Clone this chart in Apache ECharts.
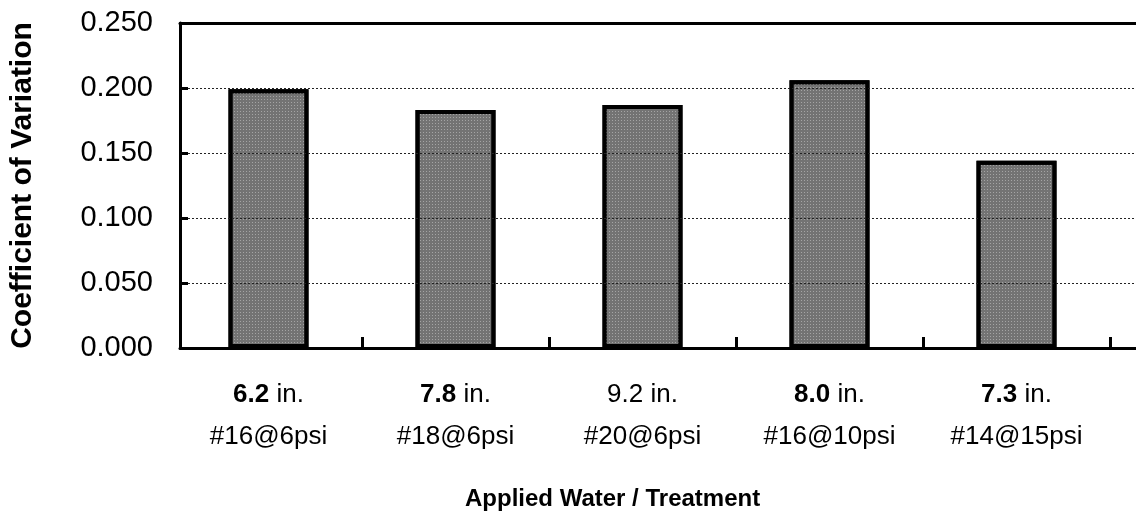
<!DOCTYPE html>
<html>
<head>
<meta charset="utf-8">
<script src="https://cdn.jsdelivr.net/npm/echarts@6/dist/echarts.min.js"></script>
<style>
  html, body { margin: 0; padding: 0; background: #fff; }
  #chart { width: 1136px; height: 521px; }
</style>
</head>
<body>
<div id="chart"></div>
<script>
// applied water depth (first label line), bold except 9.2
const amounts = ['6.2', '7.8', '9.2', '8.0', '7.3']
const amountBold = [true, true, false, true, true]
// nozzle / pressure treatment (second label line)
const treatments = ['#16@6psi', '#18@6psi', '#20@6psi', '#16@10psi', '#14@15psi']
// coefficient of variation per treatment
const cvValues = [0.199, 0.183, 0.187, 0.206, 0.144]

const chart = echarts.init(document.getElementById('chart'))

const gridTop = 23
const gridBottom = 173
const gridLeft = 175
const font = 'Liberation Sans, Arial'
const frameLine = { show: true, lineStyle: { color: '#000', width: 3 } }

chart.setOption({
  animation: false,
  backgroundColor: '#fff',
  title: {
    text: 'Applied Water / Treatment',
    left: 460,
    top: 482,
    textStyle: { fontFamily: font, fontWeight: 'bold', fontSize: 24, color: '#000' },
  },
  grid: [
    // frame, y scale and gridlines, runs to the right edge
    { left: gridLeft, right: 0, top: gridTop, bottom: gridBottom },
    // bars and category labels
    { left: gridLeft, right: 26, top: gridTop, bottom: gridBottom },
  ],
  xAxis: [
    {
      gridIndex: 0, type: 'value', min: 0, max: 1, position: 'bottom', z: 6,
      axisLine: frameLine, axisTick: { show: false }, axisLabel: { show: false }, splitLine: { show: false },
    },
    {
      gridIndex: 0, type: 'value', min: 0, max: 1, position: 'top', z: 6,
      axisLine: frameLine, axisTick: { show: false }, axisLabel: { show: false }, splitLine: { show: false },
    },
    {
      gridIndex: 1,
      type: 'category',
      data: treatments,
      z: 6,
      axisLine: { show: false },
      axisTick: {
        show: true,
        inside: true,
        length: 11,
        interval: (i) => i > 0 && i < treatments.length,
        lineStyle: { color: '#000', width: 3 },
      },
      axisLabel: {
        margin: 26,
        interval: 0,
        formatter: (value, idx) =>
          (amountBold[idx]
            ? '{b|' + amounts[idx] + '}{n| in.}'
            : '{n|' + amounts[idx] + ' in.}') +
          '\n{t|' + value + '}',
        rich: {
          b: { fontFamily: font, fontWeight: 'bold', fontSize: 26, color: '#000', lineHeight: 42 },
          n: { fontFamily: font, fontSize: 26, color: '#000', lineHeight: 42 },
          t: { fontFamily: font, fontSize: 26, color: '#000', lineHeight: 42 },
        },
      },
    },
  ],
  yAxis: [
    {
      gridIndex: 0,
      type: 'value',
      min: 0,
      max: 0.25,
      interval: 0.05,
      z: 5,
      name: 'Coefficient of Variation',
      nameLocation: 'middle',
      nameGap: 142,
      nameTextStyle: { fontFamily: font, fontWeight: 'bold', fontSize: 30, color: '#000' },
      axisLine: frameLine,
      axisTick: { inside: true, length: 8, lineStyle: { color: '#000', width: 3 } },
      axisLabel: {
        margin: 27,
        fontFamily: font,
        fontSize: 29,
        color: '#000',
        formatter: (v) => v.toFixed(3),
      },
      splitLine: { show: true, lineStyle: { color: '#222', width: 1, type: [2, 2] } },
    },
    { gridIndex: 1, type: 'value', min: 0, max: 0.25, interval: 0.05, show: false },
  ],
  series: [
    {
      type: 'bar',
      xAxisIndex: 2,
      yAxisIndex: 1,
      data: cvValues,
      barWidth: 80,
      itemStyle: {
        color: '#737373',
        borderColor: '#000',
        borderWidth: 4,
        decal: {
          symbol: 'rect',
          symbolSize: 1,
          color: 'rgba(255,255,255,0.35)',
          dashArrayX: [1, 2],
          dashArrayY: [1, 2],
          rotation: 0,
        },
      },
    },
  ],
})
</script>
</body>
</html>
